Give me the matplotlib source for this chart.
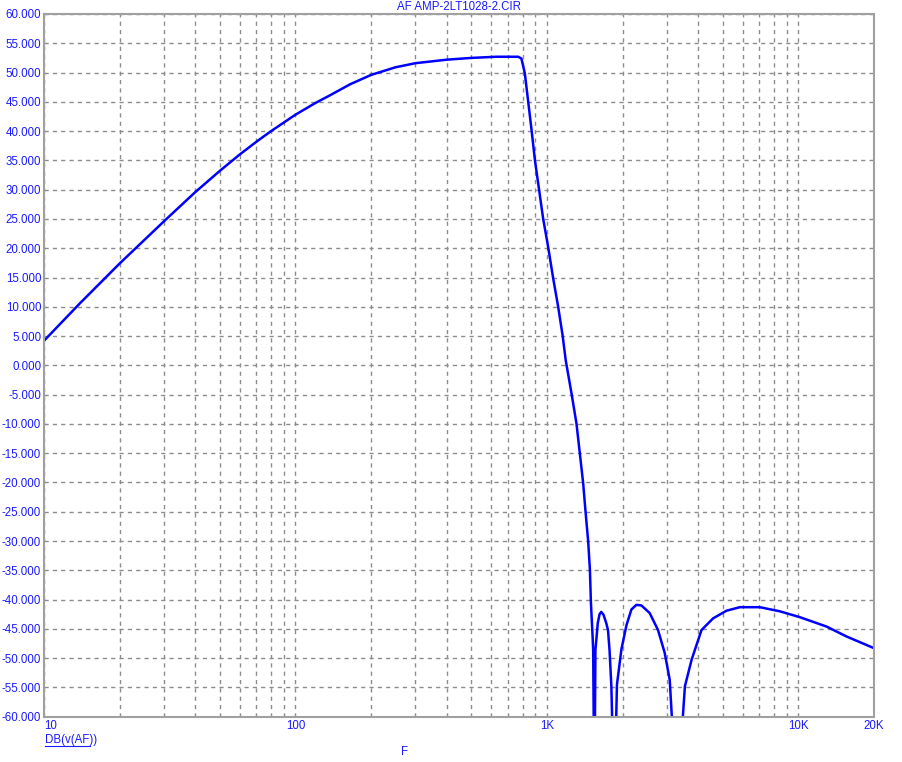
import matplotlib
matplotlib.use("Agg")
import matplotlib.pyplot as plt
from matplotlib.ticker import FixedLocator, LogLocator, NullFormatter

# values (frequency in Hz, level in dB)
freq = [10, 13.9, 20, 30, 40, 50, 60, 70, 80, 100, 120, 137, 165, 200, 250, 300, 400,
        500, 630, 769, 792, 817, 843, 869, 896, 931, 966, 1011, 1059, 1109, 1154,
        1189, 1252, 1311, 1352, 1394, 1425, 1460, 1483, 1497, 1520, 1528, 1545,
        1560, 1594, 1620, 1645, 1680, 1722, 1750, 1775, 1805, 1853, 1900, 1979,
        2072, 2168, 2270, 2377, 2564, 2767, 2942, 3080, 3289, 3540, 3762, 4121,
        4585, 5180, 5852, 7029, 8440, 10130, 12940, 15550, 20000]
db = [4.2, 10.6, 17.4, 24.6, 29.6, 33.2, 36.0, 38.2, 40.0, 42.8, 44.8, 46.1, 48.0, 49.6,
      50.9, 51.6, 52.2, 52.5, 52.7, 52.7, 52.4, 49.9, 45.0, 40.2, 35.1, 30.0, 25.1,
      20.3, 14.9, 10.0, 5.2, 0.8, -4.7, -9.9, -15.0, -20.1, -25.0, -30.1, -34.9,
      -40.6, -46.3, -48.6, -75.0, -48.6, -44.0, -42.5, -42.1, -42.6, -44.0, -45.2,
      -48.6, -54.8, -75.0, -54.5, -48.5, -44.4, -41.7, -40.9, -41.0, -42.3, -45.2,
      -49.1, -53.7, -75.0, -54.8, -50.3, -45.2, -43.2, -41.9, -41.3, -41.3, -42.0,
      -43.0, -44.6, -46.3, -48.3]

xticks = [10, 100, 1000, 10000, 20000]
xlabels = ["10", "100", "1K", "10K", "20K"]
yticks = list(range(-60, 61, 5))

blue = "#1a1aff"
gridc = "#8c8c8c"

fig = plt.figure(figsize=(9.02, 7.62), dpi=100)
ax = fig.add_axes([44 / 902, 45.3 / 762, 830 / 902, 702.7 / 762])

ax.plot(freq, db, color="#0000ff", lw=1.8, solid_joinstyle="round")
ax.set_xscale("log")
ax.set_xlim(10, 20000)
ax.set_ylim(-60, 60)

ax.xaxis.set_major_locator(FixedLocator(xticks))
ax.set_xticklabels(xlabels)
ax.xaxis.set_minor_locator(LogLocator(base=10, subs=range(2, 10), numticks=20))
ax.xaxis.set_minor_formatter(NullFormatter())
ax.set_yticks(yticks)
ax.set_yticklabels([f"{v:.3f}" for v in yticks])

ax.grid(True, which="both", axis="x", color=gridc, ls=(0, (3, 3)), lw=1)
ax.grid(True, which="major", axis="y", color=gridc, ls=(0, (3, 3)), lw=1)

ax.tick_params(which="both", length=0, colors=blue, labelsize=8.3)
ax.tick_params(axis="x", pad=2.5)
ax.tick_params(axis="y", pad=2)
for lab in ax.get_xticklabels() + ax.get_yticklabels():
    lab.set_fontfamily("Liberation Sans")
ax.get_xticklabels()[0].set_ha("left")

for s in ax.spines.values():
    s.set_color("#a0a0a0")
    s.set_linewidth(1.5)

fig.text(459 / 902, 1 - 7 / 762, "AF AMP-2LT1028-2.CIR", ha="center", va="center",
         color=blue, fontsize=8.3, family="Liberation Sans")
fig.text(45 / 902, 1 - 740 / 762, "DB(v(AF))", ha="left", va="center",
         color=blue, fontsize=8.3, family="Liberation Sans")
fig.lines.append(plt.Line2D([45 / 902, 90 / 902], [1 - 746 / 762, 1 - 746 / 762],
                            transform=fig.transFigure, color=blue, lw=0.8))
fig.text(405 / 902, 1 - 752 / 762, "F", ha="center", va="center",
         color=blue, fontsize=8.3, family="Liberation Sans")

fig.savefig("out.png", dpi=100)
